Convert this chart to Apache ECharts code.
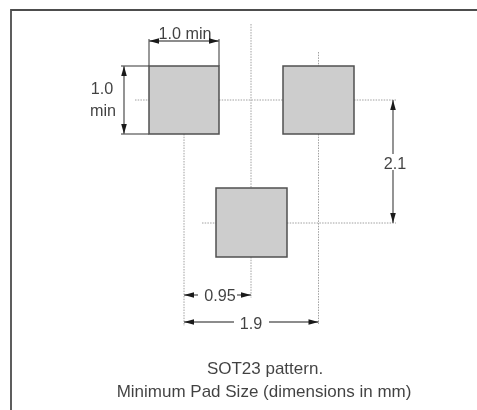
<!DOCTYPE html>
<html><head><meta charset="utf-8">
<style>html,body{margin:0;padding:0;background:#fff}#c{width:477px;height:410px}</style>
<script src="https://cdn.jsdelivr.net/npm/echarts@6/dist/echarts.min.js"></script>
</head><body><div id="c"></div>
<script>
// drawing units of the footprint sheet
const pads = [[149,66,219,134],[283,66,354,134],[216,188,287,257]];
const frameLines = [[11,410,11,10,477,10]];
const centreLines = [
 [251,24,251,188],[251,257,251,298],
 [318.5,52,318.5,66],[318.5,134,318.5,324],
 [184,134,184,326],
 [135,100,149,100],[219,100,283,100],[354,100,396,100],
 [202,223,216,223],[287,223,396,223]
];
const extensionLines = [[149,39,149,66],[219,39,219,66],[121,66,149,66],[121,134,149,134]];
const dimensionLines = [
 [149,41,219,41],[124,66,124,134],
 [393,100,393,154],[393,170,393,223],
 [184,295,198,295],[237,295,251,295],
 [184,322,234,322],[269,322,318.5,322]
];
// tip x, tip y, direction x, direction y
const arrowHeads = [
 [149,41,-1,0],[219,41,1,0],[124,66,0,-1],[124,134,0,1],
 [393,100,0,-1],[393,223,0,1],
 [184,295,-1,0],[251,295,1,0],[184,322,-1,0],[318.5,322,1,0]
];
const dimensionLabels = [
 ["1.0 min",185,35],["1.0",102,89.5],["min",103,112],["2.1",395,164.5],
 ["0.95",220,297],["1.9",251,325]
];
const captionLabels = [
 ["SOT23 pattern.",265,369.5],["Minimum Pad Size (dimensions in mm)",264,392]
];
const FONT = '"Liberation Sans", Arial, sans-serif';

function polySeries(data, style, z){
  return {type:'custom',coordinateSystem:'cartesian2d',silent:true,z,clip:false,
    encode:{x:0,y:1},data,
    renderItem:(p,api)=>{
      const v=data[p.dataIndex], pts=[];
      for(let i=0;i<v.length;i+=2) pts.push(api.coord([v[i],v[i+1]]));
      return {type:'polyline',shape:{points:pts},style:Object.assign({fill:null},style)};
    }};
}
function labelSeries(data,size){
  return {type:'scatter',silent:true,z:6,symbolSize:0,data:data.map(l=>({value:[l[1],l[2]],name:l[0]})),
    label:{show:true,position:'inside',formatter:'{b}',color:'#111',fontFamily:FONT,fontSize:size}};
}
const option={
  animation:false,
  backgroundColor:'#fff',
  grid:{left:0,right:0,top:0,bottom:0},
  xAxis:{type:'value',min:0,max:477,show:false},
  yAxis:{type:'value',min:0,max:410,inverse:true,show:false},
  series:[
    polySeries(frameLines,{stroke:'#4d4d4d',lineWidth:1.8},1),
    polySeries(centreLines,{stroke:'#a0a0a0',lineWidth:1,lineDash:[1.5,1.2]},2),
    {type:'custom',coordinateSystem:'cartesian2d',silent:true,z:3,data:pads,encode:{x:[0,2],y:[1,3]},
      renderItem:(p,api)=>{
        const a=api.coord([api.value(0),api.value(1)]),b=api.coord([api.value(2),api.value(3)]);
        return {type:'rect',shape:{x:a[0],y:a[1],width:b[0]-a[0],height:b[1]-a[1]},
          style:{fill:'#cdcdcd',stroke:'#505050',lineWidth:1.5}};
      }},
    polySeries(extensionLines,{stroke:'#555',lineWidth:1.2},4),
    polySeries(dimensionLines,{stroke:'#666',lineWidth:1.4},4),
    {type:'custom',coordinateSystem:'cartesian2d',silent:true,z:5,data:arrowHeads,encode:{x:0,y:1},
      renderItem:(p,api)=>{
        const t=api.coord([api.value(0),api.value(1)]),dx=api.value(2),dy=api.value(3),L=10,W=2.8;
        return {type:'polygon',shape:{points:[t,
          [t[0]-dx*L-dy*W,t[1]-dy*L-dx*W],
          [t[0]-dx*L+dy*W,t[1]-dy*L+dx*W]]},style:{fill:'#1a1a1a'}};
      }},
    labelSeries(dimensionLabels,16.2),
    labelSeries(captionLabels,17)
  ]
};
echarts.init(document.getElementById('c'),null,{renderer:'canvas'}).setOption(option);
</script></body></html>
